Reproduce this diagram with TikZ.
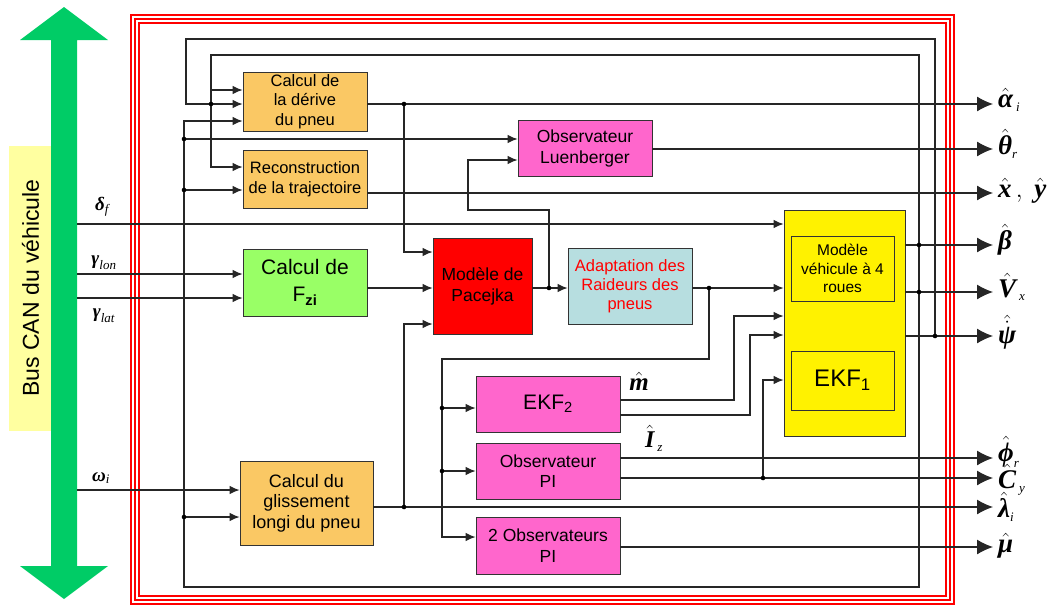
\documentclass[tikz,border=0pt]{standalone}
\usepackage{fontspec}
\setmainfont{Liberation Sans}
\newfontfamily\symf{Liberation Serif}
\usepackage{amsmath}
\usetikzlibrary{arrows.meta}

\definecolor{busgreen}{RGB}{0,204,102}
\definecolor{buslabel}{RGB}{255,255,160}
\definecolor{orng}{RGB}{250,200,100}
\definecolor{grn}{RGB}{153,255,102}
\definecolor{pnk}{RGB}{255,102,204}
\definecolor{lblue}{RGB}{183,222,224}

% symboles gras italiques et indices
\newcommand\bsy[1]{\text{\symf\bfseries\itshape #1}}
\newcommand\isub[1]{\text{\symf\itshape\fontsize{13}{13}\selectfont #1}}

\tikzset{
  box/.style={draw=black!80, line width=0.9pt, inner sep=0pt, align=center,
    font=\fontsize{16.5}{19.5}\selectfont},
  ln/.style={draw=black!85, line width=1.1pt},
  inarr/.style={ln, -{Latex[length=10pt,width=8.5pt]}},
  outarr/.style={ln, -{Latex[length=16pt,width=15pt]}},
  outlbl/.style={anchor=west, inner sep=0pt, font=\fontsize{27}{27}\selectfont},
  inlbl/.style={inner sep=0pt, font=\fontsize{19}{19}\selectfont},
}

\begin{document}
\begin{tikzpicture}[x=1pt,y=-1pt]
	\useasboundingbox (0,0) rectangle (1058,606);
	% cadre rouge
	\draw[red, line width=2pt] (131,15) rectangle (954,604);
	\draw[red, line width=1.1pt] (135,19) rectangle (950,600);
	\draw[red, line width=1.1pt] (139,23) rectangle (946,596);
	% bus CAN
	\node[fill=buslabel, rotate=90, minimum width=285pt, minimum height=43pt,
		font=\fontsize{23}{23}\selectfont] (can) at (30.5,288) {Bus CAN du véhicule};
	\fill[busgreen] (64,7) -- (108,40) -- (77,40) -- (77,566) -- (108,566) -- (64,599)
		-- (20,566) -- (51,566) -- (51,40) -- (20,40) -- cycle;
	\coordinate (bus) at (77,0);
	\coordinate (outx) at (993,0);

	% blocs
	\node[box, fill=orng, minimum width=124pt, minimum height=59pt] (derive) at (305,101.5) {Calcul de\\la dérive\\du pneu};
	\node[box, fill=orng, minimum width=124pt, minimum height=58pt, font=\fontsize{16.5}{20}\selectfont] (recon) at (305,179) {Reconstruction\\de la trajectoire};
	\node[box, fill=grn, minimum width=124pt, minimum height=67pt, font=\fontsize{21}{27}\selectfont] (fzi) at (305,282.5) {Calcul de\\F\textsubscript{\bfseries zi}};
	\node[box, fill=red, minimum width=99pt, minimum height=96pt, font=\fontsize{17.5}{21}\selectfont] (pacejka) at (482.5,286) {Modèle de\\Pacejka};
	\node[box, fill=lblue, text=red, minimum width=124pt, minimum height=76pt, font=\fontsize{16.5}{19}\selectfont] (raideurs) at (630,286) {Adaptation des\\Raideurs des\\pneus};
	\node[box, fill=pnk, minimum width=134pt, minimum height=56pt, font=\fontsize{17.5}{21}\selectfont] (luen) at (585,148) {Observateur\\Luenberger};
	\node[box, fill=yellow, minimum width=121pt, minimum height=226pt] (veh) at (844.5,323) {};
	\node[box, fill=yellow, minimum width=103pt, minimum height=65pt, font=\fontsize{15.5}{18.5}\selectfont] (modveh) at (842.5,268.5) {Modèle\\véhicule à 4\\roues};
	\node[box, fill=yellow, minimum width=103pt, minimum height=59pt, font=\fontsize{24}{24}\selectfont] (ekfun) at (842.5,380.5) {EKF\textsubscript{1}};
	\node[box, fill=pnk, minimum width=144pt, minimum height=56pt, font=\fontsize{21}{21}\selectfont] (ekfdeux) at (548,404) {EKF\textsubscript{2}};
	\node[box, fill=pnk, minimum width=144pt, minimum height=56pt, font=\fontsize{17.5}{20.5}\selectfont] (obspi) at (548,471) {Observateur\\PI};
	\node[box, fill=pnk, minimum width=144pt, minimum height=57pt, font=\fontsize{17.5}{20.5}\selectfont] (obsdeux) at (548,545.5) {2 Observateurs\\PI};
	\node[box, fill=orng, minimum width=133pt, minimum height=84pt, font=\fontsize{18}{20.5}\selectfont] (gliss) at (306.5,503) {Calcul du\\glissement\\longi du pneu};

	% points de jonction
	\coordinate (jpsi) at (935,336);
	\coordinate (jbeta) at (919,245);
	\coordinate (jvx) at (919,292);
	\coordinate (jtop) at (211,104);
	\coordinate (jlu) at (184,139);
	\coordinate (jrec) at (184,190);
	\coordinate (jgl) at (184,517);
	\coordinate (jder) at (404,104);
	\coordinate (jpac) at (549,288);
	\coordinate (jrai) at (709,288);
	\coordinate (jekf) at (442,408);
	\coordinate (jpi) at (442,471);
	\coordinate (jcy) at (763,478);
	\coordinate (jlam) at (404,507);

	% entrees du bus
	\draw[inarr] (bus |- 0,224) -- (veh.west |- 0,224);
	\draw[inarr] (bus |- 0,274) -- (fzi.west |- 0,274);
	\draw[inarr] (bus |- 0,298) -- (fzi.west |- 0,298);
	\draw[inarr] (bus |- 0,490) -- (gliss.west |- 0,490);
	\node[inlbl] (ldelta) at (102,207) {$\bsy{δ}_{\isub{f}}$};
	\node[inlbl] (llon) at (104,263) {$\bsy{γ}_{\isub{lon}}$};
	\node[inlbl] (llat) at (104,316) {$\bsy{γ}_{\isub{lat}}$};
	\node[inlbl] (lomega) at (101,478) {$\bsy{ω}_{\isub{i}}$};

	% boucles de retour
	\draw[inarr] (jpsi) -- (935,39) -- (186,39) -- (186,104) -- (derive.west |- jtop);
	\draw[inarr] (jbeta) -- (919,55) -- (211,55) -- (211,167) -- (recon.west |- 0,167);
	\draw[inarr] (211,90) -- (derive.west |- 0,90);
	\draw[inarr] (jbeta) -- (919,587) -- (184,587) -- (184,121) -- (derive.west |- 0,121);
	\draw[inarr] (jlu) -- (luen.west |- jlu);
	\draw[inarr] (jrec) -- (recon.west |- jrec);
	\draw[inarr] (jgl) -- (gliss.west |- jgl);

	% liaisons internes
	\draw[inarr] (jder) -- (404,252) -- (pacejka.west |- 0,252);
	\draw[inarr] (fzi.east |- 0,288) -- (pacejka.west |- 0,288);
	\draw[inarr] (pacejka.east |- jpac) -- (raideurs.west |- jpac);
	\draw[inarr] (jpac) -- (549,210) -- (468,210) -- (468,160) -- (luen.west |- 0,160);
	\draw[inarr] (raideurs.east |- jrai) -- (veh.west |- jrai);
	\draw[inarr] (jrai) -- (709,359) -- (442,359) -- (442,537) -- (obsdeux.west |- 0,537);
	\draw[inarr] (jekf) -- (ekfdeux.west |- jekf);
	\draw[inarr] (jpi) -- (obspi.west |- jpi);
	\draw[inarr] (ekfdeux.east |- 0,400) -- (734,400) -- (734,316) -- (veh.west |- 0,316);
	\draw[inarr] (ekfdeux.east |- 0,415) -- (750,415) -- (750,335) -- (veh.west |- 0,335);
	\draw[inarr] (jcy) -- (763,380) -- (veh.west |- 0,380);
	\draw[inarr] (jlam) -- (404,324) -- (pacejka.west |- 0,324);
	\node[inlbl, font=\fontsize{25}{25}\selectfont] (lm) at (639,381) {$\hat{\bsy{m}}$};
	\node[inlbl, font=\fontsize{24}{24}\selectfont] (liz) at (654,438) {$\hat{\bsy{I}}_{\,\isub{z}}$};

	% sorties
	\draw[outarr] (derive.east |- jder) -- (outx |- jder);
	\draw[outarr] (luen.east |- 0,149) -- (outx |- 0,149);
	\draw[outarr] (recon.east |- 0,193) -- (outx |- 0,193);
	\draw[outarr] (veh.east |- jbeta) -- (outx |- jbeta);
	\draw[outarr] (veh.east |- jvx) -- (outx |- jvx);
	\draw[outarr] (veh.east |- jpsi) -- (outx |- jpsi);
	\draw[outarr] (obspi.east |- 0,458) -- (outx |- 0,458);
	\draw[outarr] (obspi.east |- jcy) -- (outx |- jcy);
	\draw[outarr] (gliss.east |- jlam) -- (outx |- jlam);
	\draw[outarr] (obsdeux.east |- 0,547) -- (outx |- 0,547);
	\node[outlbl] (oalpha) at (998,100) {$\hat{\bsy{α}}_{\,\isub{i}}$};
	\node[outlbl] (otheta) at (998,144) {$\hat{\bsy{θ}}_{\isub{r}}$};
	\node[outlbl] (oxy) at (998,191) {$\hat{\bsy{x}}\,,\ \hat{\bsy{y}}$};
	\node[outlbl] (obeta) at (998,240) {$\hat{\bsy{β}}$};
	\node[outlbl] (ovx) at (998,287) {$\hat{\bsy{V}}_{\,\isub{x}}$};
	\node[outlbl] (opsi) at (998,332) {$\hat{\dot{\bsy{ψ}}}$};
	\node[outlbl] (ophi) at (998,452) {$\hat{\bsy{ϕ}}_{\isub{r}}$};
	\node[outlbl] (ocy) at (998,480) {$\hat{\bsy{C}}_{\,\isub{y}}$};
	\node[outlbl] (olam) at (998,507) {$\hat{\bsy{λ}}_{\isub{i}}$};
	\node[outlbl] (omu) at (998,546) {$\hat{\bsy{μ}}$};

	\foreach \j in {jpsi,jbeta,jvx,jtop,jlu,jrec,jgl,jder,jpac,jrai,jekf,jpi,jcy,jlam}
		\fill (\j) circle (2.3pt);
\end{tikzpicture}
\end{document}
